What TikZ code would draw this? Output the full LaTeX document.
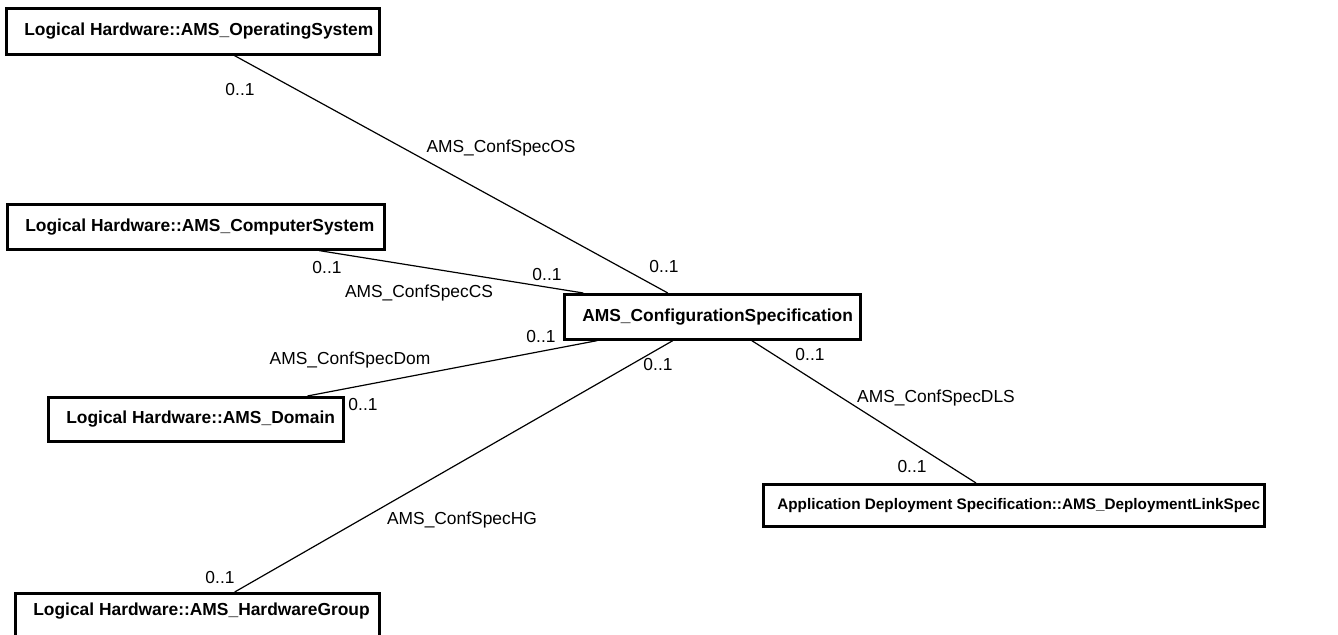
\documentclass[tikz,border=0pt]{standalone}
\usepackage{fontspec}
\setmainfont{Liberation Sans}
\usetikzlibrary{calc}

\tikzset{
    umlbox/.style={draw, line width=1.3pt, anchor=north west, inner xsep=9pt, inner ysep=0pt,
        font=\bfseries\fontsize{8.7}{10}\selectfont},
    assoc/.style={line width=0.6pt},
    mult/.style={font=\fontsize{8.7}{10}\selectfont, inner sep=0pt},
}

\begin{document}
\begin{tikzpicture}[x=0.5pt, y=-0.5pt]
    \useasboundingbox (0,0) rectangle (1338,635);

    %% Classes
    \node[umlbox, minimum height=23pt] (os) at (5,7)
        {\makebox[168.5pt][l]{Logical Hardware::AMS\_OperatingSystem}};
    \node[umlbox, minimum height=22.5pt] (cs) at (6,203)
        {\makebox[170.5pt][l]{Logical Hardware::AMS\_ComputerSystem}};
    \node[umlbox, minimum height=22pt] (dom) at (47,396)
        {\makebox[129.5pt][l]{Logical Hardware::AMS\_Domain}};
    \node[umlbox, minimum height=22.5pt] (conf) at (563,293)
        {\makebox[130pt][l]{AMS\_ConfigurationSpecification}};
    \node[umlbox, minimum height=21pt, inner xsep=7pt, font=\bfseries\fontsize{7.65}{9}\selectfont] (dls) at (762,483)
        {\makebox[236.5pt][l]{Application Deployment Specification::AMS\_DeploymentLinkSpec}};
    \node[umlbox, minimum height=24pt, text depth=8pt] (hg) at (14,592)
        {\makebox[164pt][l]{Logical Hardware::AMS\_HardwareGroup}};

    %% Associations
    % Operating system
    \draw[assoc] ($(os.south west)!0.611!(os.south east)$) -- ($(conf.north west)!0.351!(conf.north east)$);
    \node[mult] (osm) at (240,90) {0..1};
    \node[mult] (osn) at (501,148) {AMS\_ConfSpecOS};
    \node[mult] (osc) at (664,267) {0..1};

    % Computer system
    \draw[assoc] ($(cs.south west)!0.825!(cs.south east)$) -- ($(conf.north west)!0.068!(conf.north east)$);
    \node[mult] (csm) at (327,268) {0..1};
    \node[mult] (csn) at (419,293) {AMS\_ConfSpecCS};
    \node[mult] (csc) at (547,275) {0..1};

    % Domain
    \draw[assoc] ($(dom.north west)!0.875!(dom.north east)$) -- ($(conf.south west)!0.115!(conf.south east)$);
    \node[mult] (domm) at (363,405) {0..1};
    \node[mult] (domn) at (350,360) {AMS\_ConfSpecDom};
    \node[mult] (domc) at (541,337) {0..1};

    % Hardware group
    \draw[assoc] ($(hg.north west)!0.602!(hg.north east)$) -- ($(conf.south west)!0.368!(conf.south east)$);
    \node[mult] (hgm) at (220,578) {0..1};
    \node[mult] (hgn) at (462,520) {AMS\_ConfSpecHG};
    \node[mult] (hgc) at (658,365) {0..1};

    % Deployment link spec
    \draw[assoc] ($(dls.north west)!0.425!(dls.north east)$) -- ($(conf.south west)!0.632!(conf.south east)$);
    \node[mult] (dlsm) at (912,467) {0..1};
    \node[mult] (dlsn) at (936,398) {AMS\_ConfSpecDLS};
    \node[mult] (dlsc) at (810,355) {0..1};

\end{tikzpicture}
\end{document}
